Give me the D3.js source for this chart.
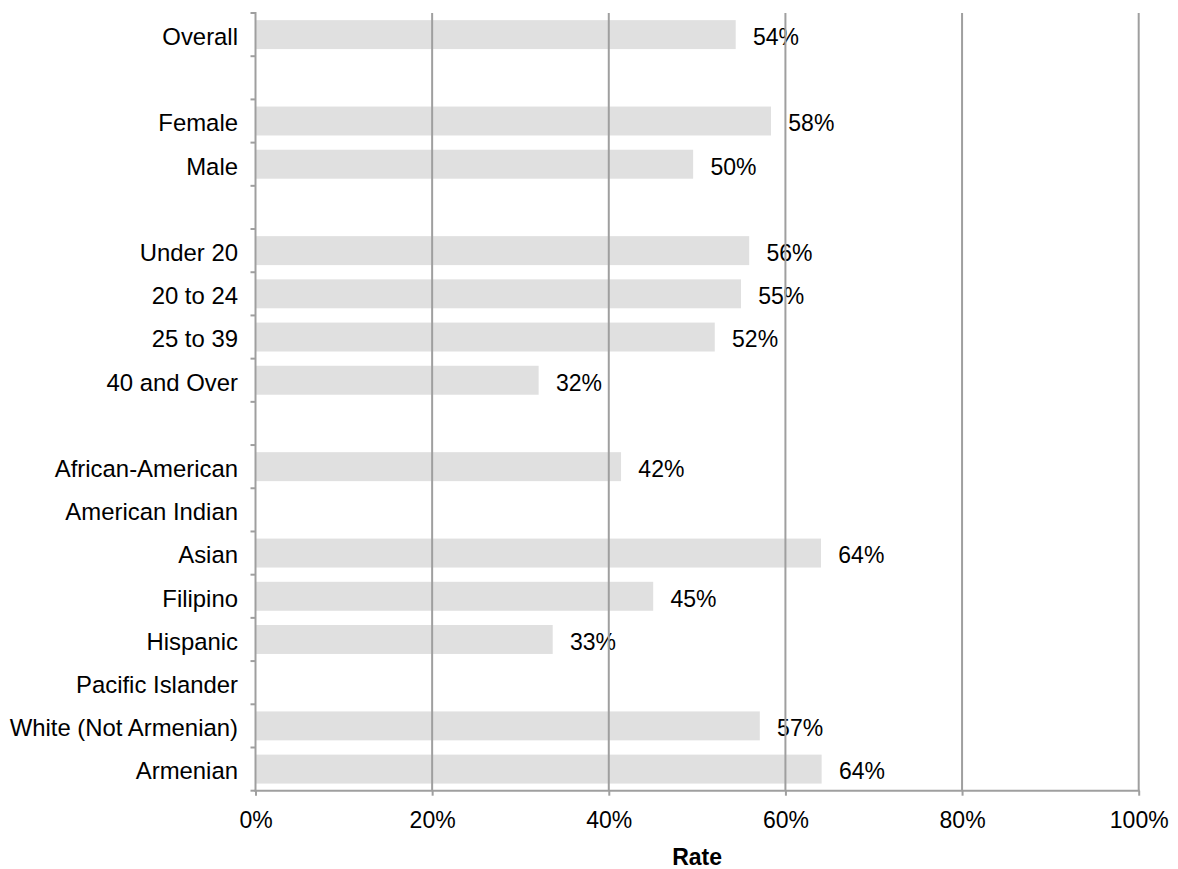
<!DOCTYPE html>
<html>
<head>
<meta charset="utf-8">
<script src="https://cdn.jsdelivr.net/npm/d3@7"></script>
<style>
  html, body { margin: 0; padding: 0; background: #fff; }
  svg { display: block; font-family: "Liberation Sans", Arial, Helvetica, sans-serif; }
</style>
</head>
<body>
<svg id="chart" width="1178" height="869"></svg>
<script>
// Categories (empty strings are spacer rows)
const categories = [
  "Overall", "",
  "Female", "Male", "",
  "Under 20", "20 to 24", "25 to 39", "40 and Over", "",
  "African-American", "American Indian", "Asian", "Filipino", "Hispanic",
  "Pacific Islander", "White (Not Armenian)", "Armenian"
];
// Rates (fraction); null = no bar
const rates = [
  0.5437, null,
  0.5837, 0.4955, null,
  0.559, 0.5497, 0.520, 0.3206, null,
  0.4139, null, 0.6403, 0.4503, 0.3365,
  null, 0.571, 0.641
];
const valueLabels = [
  "54%", "",
  "58%", "50%", "",
  "56%", "55%", "52%", "32%", "",
  "42%", "", "64%", "45%", "33%",
  "", "57%", "64%"
];
const xTicks = [0, 0.2, 0.4, 0.6, 0.8, 1.0];
const xTitle = "Rate";

(function () {
const svg = d3.select("#chart");
const mLeft = 255.5, mRight = 1138.7, mTop = 13, mBottom = 790.7;
const fs = 23;
const gridColor = "#9f9f9f";

const x = d3.scaleLinear().domain([0, 1]).range([mLeft, mRight]);
const idx = categories.map((d, i) => i);
const y = d3.scaleBand().domain(idx).range([mTop, mBottom]).paddingInner(0.33).paddingOuter(0.165);
const yb = d3.scaleBand().domain(idx).range([mTop, mBottom]);

// bars
svg.append("g").selectAll("rect")
  .data(idx.filter(i => rates[i] != null))
  .join("rect")
  .attr("x", x(0))
  .attr("y", i => y(i))
  .attr("width", i => x(rates[i]) - x(0))
  .attr("height", y.bandwidth())
  .attr("fill", "#e0e0e0");

// value labels
svg.append("g").selectAll("text")
  .data(idx.filter(i => rates[i] != null))
  .join("text")
  .attr("x", i => x(rates[i]) + 17.3)
  .attr("y", i => yb(i) + yb.bandwidth() / 2 + 10.3)
  .attr("font-size", fs)
  .attr("fill", "#000")
  .text(i => valueLabels[i]);

// gridlines
svg.append("g").selectAll("line")
  .data(xTicks.filter(t => t > 0))
  .join("line")
  .attr("x1", d => x(d)).attr("x2", d => x(d))
  .attr("y1", mTop).attr("y2", mBottom)
  .attr("stroke", gridColor).attr("stroke-width", 2);

// x axis
const xAxis = d3.axisBottom(x).tickValues(xTicks).tickSize(5)
  .tickFormat(d => Math.round(d * 100) + "%");
const gx = svg.append("g").attr("transform", `translate(0,${mBottom})`).call(xAxis);
gx.select(".domain").attr("stroke", gridColor).attr("stroke-width", 2).attr("d", `M${mLeft - 1},0H${mRight + 1}`);
gx.selectAll(".tick line").attr("stroke", gridColor).attr("stroke-width", 2);
gx.selectAll(".tick text").attr("font-size", fs).attr("fill", "#000").attr("y", 0).attr("dy", null)
  .attr("transform", "translate(0,37.5)");
gx.attr("font-family", null);

// y axis
const gy = svg.append("g");
const boundaries = idx.map(i => yb(i)).concat([mBottom]);
gy.selectAll("line.tk").data(boundaries).join("line").attr("class", "tk")
  .attr("x1", mLeft - 5).attr("x2", mLeft).attr("y1", d => d).attr("y2", d => d)
  .attr("stroke", gridColor).attr("stroke-width", 2);
gy.append("line").attr("x1", mLeft).attr("x2", mLeft).attr("y1", mTop - 1).attr("y2", mBottom + 1)
  .attr("stroke", gridColor).attr("stroke-width", 2);
gy.selectAll("text").data(idx.filter(i => categories[i] !== "")).join("text")
  .attr("x", 238)
  .attr("y", i => yb(i) + yb.bandwidth() / 2 + 10.3)
  .attr("text-anchor", "end")
  .attr("font-size", 23.9)
  .attr("fill", "#000")
  .text(i => categories[i]);

// x title
svg.append("text")
  .attr("x", (mLeft + mRight) / 2)
  .attr("y", 865)
  .attr("text-anchor", "middle")
  .attr("font-size", 23)
  .attr("font-weight", "bold")
  .attr("fill", "#000")
  .text(xTitle);
})();
</script>
</body>
</html>
